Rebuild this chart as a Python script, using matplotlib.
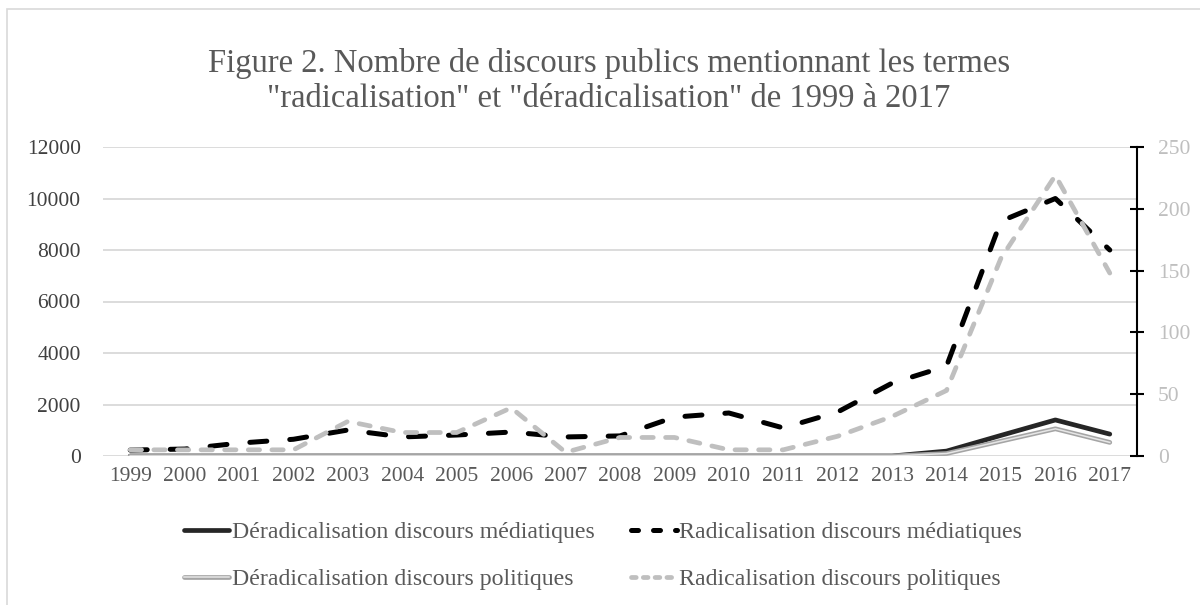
import matplotlib
matplotlib.use("Agg")
import matplotlib.pyplot as plt
from matplotlib.lines import Line2D
from matplotlib.patches import Rectangle

years = ["1999", "2000", "2001", "2002", "2003", "2004", "2005", "2006", "2007", "2008",
         "2009", "2010", "2011", "2012", "2013", "2014", "2015", "2016", "2017"]

# left axis (médiatiques)
derad_media = [0, 0, 0, 0, 0, 0, 0, 0, 0, 0, 0, 0, 0, 0, 0, 190, 800, 1400, 850]
rad_media = [230, 270, 500, 650, 1010, 740, 815, 930, 740, 780,
             1510, 1670, 1090, 1710, 2830, 3490, 9120, 10000, 8000]

# right axis (politiques)
derad_pol = [0, 0, 0, 0, 0, 0, 0, 0, 0, 0, 0, 0, 0, 0, 0, 2, 12, 22, 11]
rad_pol = [5, 5, 5, 5, 28, 19, 19, 39, 3, 15, 15, 5, 5, 16, 32, 53, 160, 227, 148]

left_ticks = [0, 2000, 4000, 6000, 8000, 10000, 12000]
right_ticks = [0, 50, 100, 150, 200, 250]

labels = ["Déradicalisation discours médiatiques", "Radicalisation discours médiatiques",
          "Déradicalisation discours politiques", "Radicalisation discours politiques"]

title = ("Figure 2. Nombre de discours publics mentionnant les termes\n"
         "\"radicalisation\" et \"déradicalisation\" de 1999 à 2017")

plt.rcParams["font.family"] = ["Liberation Serif", "DejaVu Serif"]

TXT = "#595959"
GRID = "#d9d9d9"

fig = plt.figure(figsize=(12, 6.05), dpi=100)
fig.patches.append(Rectangle((7 / 1200, -0.05), 1.1, 1.05 - 9 / 605, transform=fig.transFigure,
                             fill=False, edgecolor=GRID, linewidth=1.2))

ax = fig.add_axes([103 / 1200, 1 - 456 / 605, (1137 - 103) / 1200, (456 - 147) / 605])
ax2 = ax.twinx()

x = list(range(len(years)))

ax.plot(x, derad_media, color="#262626", lw=3.4, solid_capstyle="round", zorder=3)
ax.plot(x, rad_media, color="black", lw=3.6, dashes=(3.4, 4.6), dash_capstyle="round", zorder=3)

ax2.plot(x, derad_pol, color="#a5a5a5", lw=3.4, solid_capstyle="round", zorder=3)
ax2.plot(x, derad_pol, color="#e6e6e6", lw=1.1, zorder=4)
ax2.plot(x, rad_pol, color="#bfbfbf", lw=3.4, dashes=(2.4, 2.6), dash_capstyle="round", zorder=5)

ax.set_xlim(-0.5, len(years) - 0.5)
ax.set_ylim(0, 12000)
ax2.set_ylim(0, 250)

ax.set_xticks(x)
ax.set_xticklabels(years)
ax.set_yticks(left_ticks)
ax.set_yticklabels([str(t) for t in left_ticks])
ax2.set_yticks(right_ticks)
ax2.set_yticklabels([str(t) for t in right_ticks])

ax.grid(axis="y", color=GRID, lw=1.3)
ax.set_axisbelow(True)

for s in ["top", "left", "bottom", "right"]:
    ax.spines[s].set_visible(False)
for s in ["top", "left", "bottom"]:
    ax2.spines[s].set_visible(False)
ax2.spines["right"].set_color("black")
ax2.spines["right"].set_linewidth(1.5)

ax.tick_params(axis="x", length=0, pad=8, labelsize=15.5, labelcolor=TXT)
ax.tick_params(axis="y", length=0, pad=16, labelsize=15.5, labelcolor="#404040")
ax2.tick_params(axis="y", direction="inout", length=10, width=1.5, color="black",
                pad=10, labelsize=15.5, labelcolor="#bfbfbf")

fig.text(609 / 1200, 1 - 81 / 605, title, ha="center", va="center",
         fontsize=23.5, color=TXT, linespacing=1.22)

h1 = Line2D([], [], color="#262626", lw=3.4, solid_capstyle="round")
h2 = Line2D([], [], color="black", lw=3.6, dashes=(1.4, 3.0), dash_capstyle="round")
h3 = (Line2D([], [], color="#a5a5a5", lw=3.4, solid_capstyle="round"),
      Line2D([], [], color="#e6e6e6", lw=1.1))
h4 = Line2D([], [], color="#bfbfbf", lw=3.4, dashes=(1.0, 1.5), dash_capstyle="round")

# legend fills column by column, so order handles to read row by row
leg = fig.legend([h1, h3, h2, h4], [labels[0], labels[2], labels[1], labels[3]],
                 loc="center", ncol=2, bbox_to_anchor=(603 / 1200, 1 - 556 / 605),
                 frameon=False, fontsize=17.2, labelcolor=TXT, handlelength=1.9,
                 handletextpad=0.1, columnspacing=1.55, labelspacing=1.05)

fig.savefig("out.png", dpi=100)
